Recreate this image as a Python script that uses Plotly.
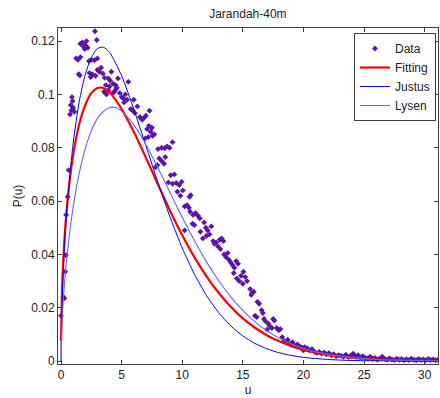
import plotly.graph_objects as go

# ---- Data points ----
u_data = [
    0.00, 0.20, 0.27, 0.35, 0.40, 0.42, 0.55, 0.63, 0.74, 0.80, 0.90, 0.95, 1.00, 1.10, 0.85,
    1.25, 1.40, 1.60, 1.46, 1.55, 1.60, 1.75, 1.85, 2.00, 2.10, 2.20, 1.95, 2.80, 2.95,
    2.30, 2.50, 2.75, 3.00, 2.35, 2.45, 2.60, 2.85, 3.00, 3.15, 3.30, 3.45, 3.60, 3.90,
    4.05, 4.15, 3.70, 4.00, 4.30, 4.50, 4.70, 4.60, 3.55, 3.75, 3.90, 4.25, 4.40, 4.55,
    4.85, 5.00, 5.15, 5.30, 5.45, 5.20, 5.55, 5.75, 5.90, 6.00, 6.10, 6.30, 6.50, 6.70,
    6.85, 7.00, 7.30,
    7.10, 7.25, 7.40, 7.55, 7.70, 7.20, 6.95, 7.50, 8.00, 8.30, 8.55, 8.75, 8.95, 9.20,
    8.10, 8.30, 8.50, 8.60, 7.80, 7.95, 9.05, 9.35, 8.85, 9.20, 9.50, 9.75, 9.95, 9.60,
    9.85, 10.05, 10.60, 10.70, 10.20, 10.40, 10.55, 10.65, 10.90, 11.10, 11.30, 11.45,
    10.85, 11.00, 10.20, 11.50, 11.70, 11.80, 11.95, 12.10, 12.25, 12.40, 12.00, 12.55,
    12.65, 12.80, 12.95, 13.10, 13.25, 13.40, 13.15, 13.45, 13.60, 13.75, 13.85, 14.00,
    14.15, 14.30, 14.45, 14.60, 14.25, 14.50, 14.70, 14.85, 15.05, 15.20, 15.35, 15.00,
    15.60, 15.75, 15.90, 15.70, 16.20, 16.35, 16.55, 16.65, 16.00, 16.15, 16.75, 16.85,
    17.10, 17.25, 17.40, 17.50, 17.60, 17.00, 17.80, 17.95, 18.10, 18.25, 18.40, 18.55,
    18.70, 18.90, 19.10, 19.30, 19.50, 19.70, 19.90, 20.10, 20.30, 20.00, 20.50, 20.70,
    20.90, 21.10, 21.30, 21.50, 21.70, 21.90, 22.10, 22.30, 22.50, 22.70, 22.90, 23.10,
    23.30, 23.50, 23.70, 23.90, 24.10, 24.30, 24.50, 24.70, 24.90, 25.10, 25.30, 25.50,
    25.70, 25.90, 26.10, 26.30, 26.50, 26.70, 26.90, 27.10, 27.30, 27.50, 27.70, 27.90,
    28.10, 28.30, 28.50, 28.70, 28.90, 29.10, 29.30, 29.50, 29.70, 29.90, 30.10, 30.30,
    30.50, 30.70, 30.90, 31.10,
]
p_data = [
    0.0170, 0.0240, 0.0235, 0.0335, 0.0397, 0.0548, 0.0616, 0.0716, 0.0925, 0.0960, 0.0990, 0.0975, 0.0950, 0.0935, 0.0940,
    0.1135, 0.1130, 0.1140, 0.1076, 0.1072, 0.1190, 0.1195, 0.1180, 0.1185, 0.1200, 0.1175, 0.1170, 0.1237, 0.1204,
    0.1125, 0.1130, 0.1128, 0.1135, 0.1080, 0.1065, 0.1075, 0.1070, 0.1092, 0.1085, 0.1100, 0.1078, 0.1062, 0.1060,
    0.1052, 0.1085, 0.1035, 0.1030, 0.1040, 0.1035, 0.1060, 0.1025, 0.1010, 0.1000, 0.1015, 0.1005, 0.1010, 0.1020,
    0.1005, 0.0990, 0.0985, 0.1000, 0.0980, 0.0970, 0.1047, 0.0945, 0.0940, 0.0980, 0.0930, 0.0955, 0.0915, 0.0905,
    0.0912, 0.0920, 0.0939,
    0.0870, 0.0882, 0.0860, 0.0845, 0.0850, 0.0840, 0.0835, 0.0875, 0.0795, 0.0800, 0.0798, 0.0805, 0.0800, 0.0821,
    0.0760, 0.0750, 0.0740, 0.0765, 0.0727, 0.0735, 0.0697, 0.0700, 0.0670, 0.0665, 0.0668, 0.0660, 0.0672, 0.0635,
    0.0620, 0.0640, 0.0616, 0.0622, 0.0580, 0.0585, 0.0575, 0.0560, 0.0548, 0.0555, 0.0545, 0.0535,
    0.0515, 0.0510, 0.0490, 0.0485, 0.0460, 0.0520, 0.0500, 0.0490, 0.0475, 0.0505, 0.0470, 0.0450,
    0.0440, 0.0445, 0.0430, 0.0455, 0.0460, 0.0450, 0.0420, 0.0400, 0.0390, 0.0405, 0.0380, 0.0370,
    0.0360, 0.0350, 0.0375, 0.0365, 0.0330, 0.0310, 0.0300, 0.0320, 0.0335, 0.0315, 0.0300, 0.0290,
    0.0270, 0.0255, 0.0260, 0.0248, 0.0222, 0.0215, 0.0191, 0.0180, 0.0170, 0.0165, 0.0158, 0.0150,
    0.0140, 0.0130, 0.0124, 0.0158, 0.0152, 0.0118, 0.0124, 0.0116, 0.0120, 0.0090, 0.0075, 0.0070,
    0.0080, 0.0065, 0.0071, 0.0058, 0.0062, 0.0055, 0.0050, 0.0052, 0.0048, 0.0040, 0.0040, 0.0045,
    0.0035, 0.0030, 0.0034, 0.0028, 0.0032, 0.0025, 0.0030, 0.0022, 0.0026, 0.0018, 0.0022, 0.0020,
    0.0016, 0.0024, 0.0015, 0.0020, 0.0028, 0.0018, 0.0022, 0.0014, 0.0018, 0.0012, 0.0010, 0.0016,
    0.0008, 0.0012, 0.0006, 0.0010, 0.0016, 0.0008, 0.0005, 0.0010, 0.0006, 0.0004, 0.0009, 0.0005,
    0.0008, 0.0003, 0.0007, 0.0004, 0.0009, 0.0005, 0.0003, 0.0008, 0.0004, 0.0006, 0.0003, 0.0008,
    0.0004, 0.0006, 0.0003, 0.0005,
]

# ---- Fitted curves ----
u_fit = [0.005, 0.1, 0.25, 0.5, 1, 1.5, 2, 2.5, 3, 3.5, 4, 5, 6, 7, 8, 9, 10, 11, 12, 13,
         14, 15, 16, 17, 18, 19, 20, 22, 24, 26, 28, 30, 31.2]
p_fit = [0.0076, 0.0288, 0.0432, 0.0585, 0.0772, 0.0888, 0.0960, 0.1005, 0.1024, 0.1024,
         0.1008, 0.0945, 0.0860, 0.0763, 0.0662, 0.0563, 0.0472, 0.0390, 0.0318, 0.0256,
         0.0204, 0.0160, 0.0125, 0.0096, 0.0074, 0.0056, 0.0042, 0.0023, 0.0012, 0.0006,
         0.0003, 0.00015, 0.0001]

u_justus = [0.0, 0.01, 0.05, 0.25, 0.5, 1, 1.5, 2, 2.5, 3, 3.5, 4, 5, 6, 7, 8, 9, 10, 11, 12,
            13, 14, 15, 16, 17, 18, 19, 20, 22, 24, 26, 31.2]
p_justus = [0.0, 0.0069, 0.0166, 0.0401, 0.0579, 0.0817, 0.0973, 0.1075, 0.1138, 0.1172,
            0.1177, 0.1158, 0.1070, 0.0945, 0.0808, 0.0669, 0.0539, 0.0424, 0.0326, 0.0246,
            0.0182, 0.0132, 0.0094, 0.0066, 0.0046, 0.0031, 0.0021, 0.0014, 0.0006, 0.0002,
            0.0001, 0.0]

u_lysen = [0.0, 0.02, 0.1, 0.25, 0.5, 1, 1.5, 2, 2.5, 3, 3.5, 4, 4.5, 5, 6, 7, 8, 9, 10, 11,
           12, 13, 14, 15, 16, 17, 18, 19, 20, 22, 24, 26, 28, 31.2]
p_lysen = [0.0, 0.0063, 0.0160, 0.0269, 0.0397, 0.0577, 0.0704, 0.0797, 0.0864, 0.0909,
           0.0936, 0.0950, 0.0951, 0.0937, 0.0886, 0.0812, 0.0724, 0.0631, 0.0539, 0.0452,
           0.0372, 0.0302, 0.0241, 0.0190, 0.0147, 0.0113, 0.0086, 0.0064, 0.0047, 0.0025,
           0.0013, 0.0006, 0.0003, 0.0001]

x_ticks = [0, 5, 10, 15, 20, 25, 30]
y_ticks = [0, 0.02, 0.04, 0.06, 0.08, 0.1, 0.12]
y_tick_text = ["0", "0.02", "0.04", "0.06", "0.08", "0.1", "0.12"]

FONT = "Liberation Sans, Arial, sans-serif"
AX = "#404040"

fig = go.Figure()
fig.add_trace(go.Scatter(x=u_data, y=p_data, mode="markers", name="Data",
                         marker=dict(symbol="diamond", size=4.5, color="#5A14A8",
                                     line=dict(width=0))))
fig.add_trace(go.Scatter(x=u_fit, y=p_fit, mode="lines", name="Fitting",
                         line=dict(color="#FF0000", width=2.2, shape="spline", smoothing=0.6)))
fig.add_trace(go.Scatter(x=u_justus, y=p_justus, mode="lines", name="Justus",
                         line=dict(color="#0000FF", width=1, shape="spline", smoothing=0.6)))
fig.add_trace(go.Scatter(x=u_lysen, y=p_lysen, mode="lines", name="Lysen",
                         line=dict(color="#6666FF", width=1.1, shape="spline", smoothing=0.6)))

axis_common = dict(showgrid=False, zeroline=False, showline=True, linecolor=AX, linewidth=1,
                   mirror="allticks", ticks="inside", ticklen=4, tickcolor=AX,
                   tickfont=dict(family=FONT, size=12, color="#222222"))

fig.update_xaxes(range=[-0.25, 31.1], tickvals=x_ticks, ticktext=[str(t) for t in x_ticks],
                 title=dict(text="u", font=dict(family=FONT, size=12, color="#222222"), standoff=4),
                 **axis_common)
fig.update_yaxes(range=[-0.0011, 0.1249], tickvals=y_ticks, ticktext=y_tick_text,
                 title=dict(text="P(u)", font=dict(family=FONT, size=12, color="#222222"), standoff=6),
                 **axis_common)

fig.update_layout(
    width=440, height=398,
    margin=dict(l=58, r=2, t=28, b=34),
    paper_bgcolor="white", plot_bgcolor="white",
    title=dict(text="Jarandah-40m", x=0.5634, xanchor="center", y=0.965, yanchor="middle",
               font=dict(family=FONT, size=12, color="#222222")),
    legend=dict(x=0.9947, xanchor="right", y=0.985, yanchor="top",
                bgcolor="white", bordercolor=AX, borderwidth=1,
                font=dict(family=FONT, size=12, color="#222222"),
                tracegroupgap=0, itemwidth=30),
    showlegend=True,
)

fig.write_html("out.html")
